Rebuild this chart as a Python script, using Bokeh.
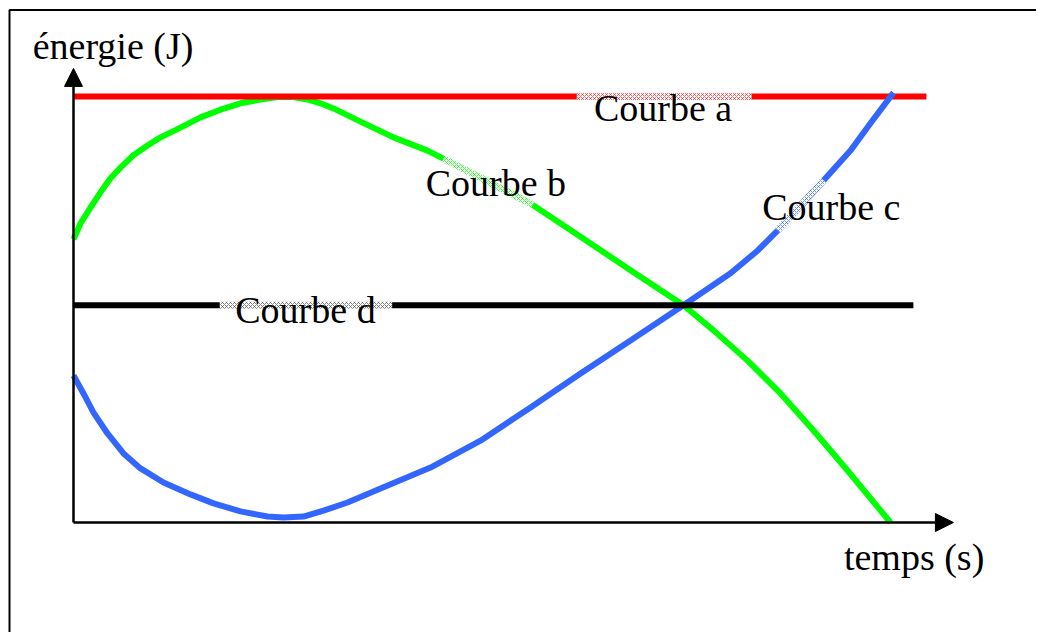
import math
import numpy as np
from bokeh.plotting import figure
from bokeh.models import Range1d, Arrow, NormalHead
from bokeh.core.properties import value
from bokeh.embed import file_html
from bokeh.resources import INLINE

# ---------------- data (time and energy in arbitrary units) ----------------
curve_a_t = [0.0, 10.44]
curve_a_e = [10.0, 10.0]

curve_d_t = [0.0, 10.28]
curve_d_e = [5.1, 5.1]

curve_b_t = [0.0, 0.086, 0.208, 0.330, 0.453, 0.575, 0.734, 0.905, 1.065, 1.310,
             1.554, 1.799, 2.044, 2.289, 2.497, 2.693, 2.864, 3.023, 3.182, 3.513,
             3.917, 4.333, 4.982, 5.594, 6.206, 6.818, 7.466, 7.834, 8.250, 8.654,
             9.058, 9.474, 10.0]
curve_b_e = [6.65, 7.02, 7.39, 7.75, 8.08, 8.33, 8.62, 8.85, 9.04, 9.27,
             9.51, 9.69, 9.84, 9.93, 9.99, 9.99, 9.93, 9.84, 9.72, 9.41,
             9.04, 8.73, 8.10, 7.49, 6.71, 5.92, 5.10, 4.51, 3.80, 3.03,
             2.16, 1.22, 0.0]

curve_c_t = [0.0, 0.122, 0.245, 0.416, 0.612, 0.820, 1.102, 1.432, 1.714, 2.044,
             2.375, 2.570, 2.815, 3.060, 3.354, 3.758, 4.370, 4.982, 5.594, 6.206,
             6.818, 7.466, 8.042, 8.372, 8.654, 8.935, 9.180, 9.510, 9.755, 10.037]
curve_c_e = [3.45, 3.03, 2.58, 2.09, 1.62, 1.27, 0.94, 0.66, 0.45, 0.26,
             0.14, 0.12, 0.14, 0.28, 0.47, 0.80, 1.29, 1.92, 2.70, 3.50,
             4.27, 5.10, 5.85, 6.38, 6.92, 7.49, 8.03, 8.73, 9.37, 10.09]

# label texts and anchor points (data units, left / baseline)
label_texts = ["énergie (J)", "Courbe a", "Courbe b", "Courbe c", "Courbe d", "temps (s)"]
label_t = [-0.50, 6.37, 4.31, 8.43, 1.98, 9.43]
label_e = [11.18, 9.74, 7.98, 7.40, 5.00, -0.80]

# time spans where each curve is overlaid by its label's hatched box
hatch_span_a = (6.16, 8.30)
hatch_span_b = (4.53, 5.62)
hatch_span_c = (8.62, 9.18)
hatch_span_d = (1.79, 3.90)

# axis extents (arrow tips)
time_axis_end = 10.77
energy_axis_end = 10.66

# ---------------- layout ----------------
W, H = 1036, 632
ORIGIN_X, ORIGIN_Y = 73, 522      # canvas pixels of the origin
SX, SY = 81.7, 42.6               # pixels per data unit

x_range = Range1d(-ORIGIN_X / SX, (W - ORIGIN_X) / SX)
y_range = Range1d(-(H - ORIGIN_Y) / SY, ORIGIN_Y / SY)

p = figure(width=W, height=H, x_range=x_range, y_range=y_range,
           output_backend="svg", toolbar_location=None,
           x_axis_type=None, y_axis_type=None, min_border=0)
p.grid.visible = False
p.outline_line_color = None
p.background_fill_color = "white"
p.border_fill_color = "white"

# outer frame box (right / bottom sides fall outside the page)
p.quad(left=[(ORIGIN_X - 9) / -SX], right=[x_range.end + 3],
       top=[(ORIGIN_Y - 9.5) / SY], bottom=[y_range.start - 3],
       fill_color=None, line_color="black", line_width=2)

# axes with arrow heads
p.add_layout(Arrow(x_start=0, y_start=0, x_end=time_axis_end, y_end=0,
                   line_width=2.5, line_color="black",
                   end=NormalHead(size=18, fill_color="black", line_color="black", line_width=1)))
p.add_layout(Arrow(x_start=0, y_start=0, x_end=0, y_end=energy_axis_end,
                   line_width=2.5, line_color="black",
                   end=NormalHead(size=18, fill_color="black", line_color="black", line_width=1)))

GREEN, RED, BLUE, BLACK = "#00FF00", "#FF0000", "#3366FF", "#000000"

p.line(curve_b_t, curve_b_e, line_color=GREEN, line_width=6, line_join="round")
p.line(curve_a_t, curve_a_e, line_color=RED, line_width=6)
p.line(curve_c_t, curve_c_e, line_color=BLUE, line_width=6, line_join="round")
p.line(curve_d_t, curve_d_e, line_color=BLACK, line_width=6)


def hatch_box(ts, es, span, color, alpha):
    t0, t1 = span
    e0 = float(np.interp(t0, ts, es))
    e1 = float(np.interp(t1, ts, es))
    dx = (t1 - t0) * SX
    dy = (e1 - e0) * SY
    length = math.hypot(dx, dy)
    ang = math.atan2(dy, dx)
    p.rect(x=[(t0 + t1) / 2], y=[(e0 + e1) / 2], width=[length], height=[7],
           width_units="screen", height_units="screen", angle=[ang],
           fill_color="white", line_color=None,
           hatch_pattern="diagonal_cross", hatch_color=color, hatch_alpha=alpha,
           hatch_scale=4, hatch_weight=1)


hatch_box(curve_a_t, curve_a_e, hatch_span_a, RED, 0.6)
hatch_box(curve_b_t, curve_b_e, hatch_span_b, GREEN, 0.7)
hatch_box(curve_c_t, curve_c_e, hatch_span_c, BLUE, 0.7)
hatch_box(curve_d_t, curve_d_e, hatch_span_d, "#555555", 0.7)

p.text(x=label_t, y=label_e, text=label_texts,
       text_font=value("Liberation Serif"), text_font_size="38px",
       text_color="black", text_align="left", text_baseline="alphabetic")

open("out.html", "w").write(file_html(p, INLINE))
